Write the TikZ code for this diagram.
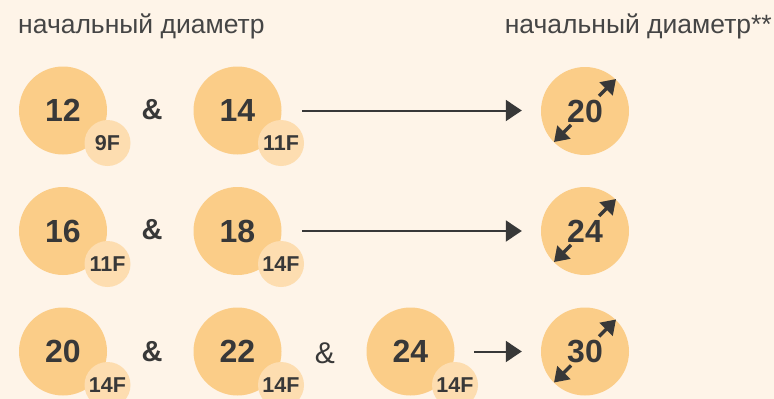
\documentclass[tikz,border=0pt]{standalone}
\usepackage{fontspec}
\setmainfont{Liberation Sans}
\usetikzlibrary{arrows.meta,calc}
\definecolor{bgc}{HTML}{FEF4E8}
\definecolor{bigc}{HTML}{FBCD88}
\definecolor{smallc}{HTML}{FDDDB0}
\definecolor{ink}{HTML}{383838}
\definecolor{headink}{HTML}{454545}
\tikzset{
  big/.style={circle,fill=bigc,minimum size=88pt,inner sep=0pt,text=ink,font=\fontsize{32}{32}\selectfont\bfseries},
  small/.style={circle,fill=smallc,minimum size=46pt,inner sep=0pt,text=ink,font=\fontsize{21.5}{21.5}\selectfont\bfseries},
  amp/.style={text=ink,font=\fontsize{29}{29}\selectfont\bfseries},
  ampthin/.style={text=ink,font=\fontsize{30}{30}\selectfont},
  head/.style={text=headink,font=\fontsize{26.5}{26.5}\selectfont,inner sep=0pt},
  flow/.style={draw=ink,line width=2pt,-{Triangle[length=16pt,width=21pt]}},
  dia/.style={draw=ink,line width=3.2pt,-{Triangle[length=14pt,width=18pt]}}
}
\begin{document}
\begin{tikzpicture}[x=1pt,y=-1pt]
\fill[bgc] (0,0) rectangle (774,399);
\useasboundingbox (0,0) rectangle (774,399);
% headers
\node[head,anchor=west] (h1) at (18,26) {начальный диаметр};
\node[head,anchor=east] (h2) at (772,26) {начальный диаметр**};
% row 1
\node[big] (r1a) at (63,110.5) {12};
\node[small] (r1as) at (107.5,143) {9F};
\node[amp] (r1amp) at (152,110) {\&};
\node[big] (r1b) at (237.5,110.5) {14};
\node[small] (r1bs) at (281,143) {11F};
\node[big] (r1t) at (585,111) {20};
\coordinate (r1s) at (302,110.5);
\draw[flow] (r1s) -- ([xshift=-19pt]r1t.west |- r1s);
\draw[dia] ($(r1t)+(14,-15)$) -- ($(r1t)+(31,-32)$);
\draw[dia] ($(r1t)+(-14,14)$) -- ($(r1t)+(-31,31)$);
% row 2
\node[big] (r2a) at (63,231) {16};
\node[small] (r2as) at (107.5,264) {11F};
\node[amp] (r2amp) at (152,230) {\&};
\node[big] (r2b) at (237.5,231) {18};
\node[small] (r2bs) at (281,264) {14F};
\node[big] (r2t) at (585,231) {24};
\coordinate (r2s) at (302,231);
\draw[flow] (r2s) -- ([xshift=-19pt]r2t.west |- r2s);
\draw[dia] ($(r2t)+(14,-15)$) -- ($(r2t)+(31,-32)$);
\draw[dia] ($(r2t)+(-14,14)$) -- ($(r2t)+(-31,31)$);
% row 3
\node[big] (r3a) at (63,351.5) {20};
\node[small] (r3as) at (107.5,385) {14F};
\node[amp] (r3amp) at (152,352) {\&};
\node[big] (r3b) at (237.5,351.5) {22};
\node[small] (r3bs) at (281,385) {14F};
\node[ampthin] (r3amp2) at (325,353) {\&};
\node[big] (r3c) at (410.5,351.5) {24};
\node[small] (r3cs) at (455,385) {14F};
\node[big] (r3t) at (585,351.5) {30};
\coordinate (r3s) at (474,351.5);
\draw[flow] (r3s) -- ([xshift=-19pt]r3t.west |- r3s);
\draw[dia] ($(r3t)+(14,-15)$) -- ($(r3t)+(31,-32)$);
\draw[dia] ($(r3t)+(-14,14)$) -- ($(r3t)+(-31,31)$);
\end{tikzpicture}
\end{document}
